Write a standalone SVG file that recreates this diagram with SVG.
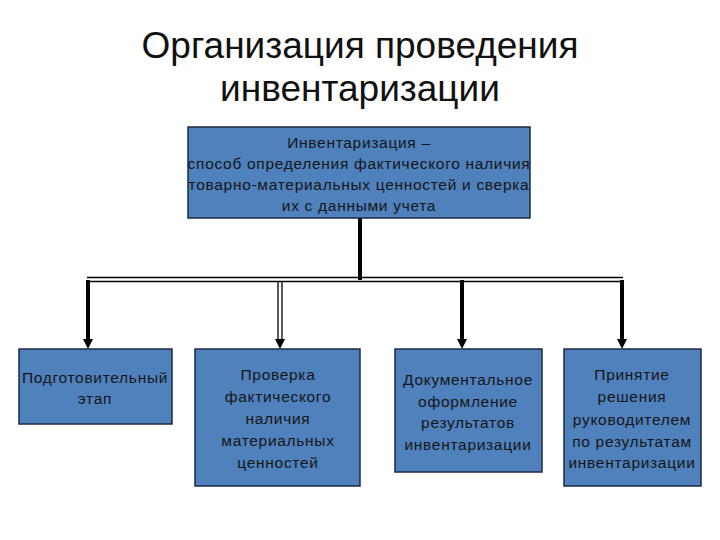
<svg xmlns="http://www.w3.org/2000/svg" width="720" height="540" viewBox="0 0 720 540">
<defs>
<style>
.title{font-family:"Liberation Sans","DejaVu Sans",sans-serif;font-size:37px;fill:#111;text-anchor:middle}
.box{fill:#4f81bd;stroke:#1c2a44;stroke-width:1.5}
.t{font-family:"Liberation Sans","DejaVu Sans",sans-serif;font-size:15.5px;letter-spacing:0.7px;fill:#161616;text-anchor:middle}
.thick{stroke:#000;stroke-width:4;fill:none}
.thin{stroke:#000;stroke-width:1.3;fill:none}
</style>
</defs>
<rect width="720" height="540" fill="#fff"/>
<g id="title">
<text class="title" x="360" y="58">Организация проведения</text>
<text class="title" x="360" y="101">инвентаризации</text>
</g>
<g id="connectors">
<line class="thick" x1="360" y1="218" x2="360" y2="280"/>
<line class="thin" x1="87" y1="277.5" x2="623" y2="277.5"/>
<line class="thin" x1="87" y1="281.5" x2="623" y2="281.5"/>
<line class="thick" x1="88" y1="280" x2="88" y2="340"/>
<path d="M83,339 L93,339 L88,349 z" fill="#000"/>
<line class="thin" x1="278" y1="282" x2="278" y2="340"/>
<line class="thin" x1="282" y1="282" x2="282" y2="340"/>
<path d="M275,339 L285,339 L280,349 z" fill="#000"/>
<line class="thick" x1="462" y1="280" x2="462" y2="340"/>
<path d="M457,339 L467,339 L462,349 z" fill="#000"/>
<line class="thick" x1="622" y1="280" x2="622" y2="340"/>
<path d="M617,339 L627,339 L622,349 z" fill="#000"/>
</g>
<g id="top">
<rect class="box" x="188" y="127" width="342" height="91"/>
<text class="t" x="359" y="148">Инвентаризация –</text>
<text class="t" x="359" y="169">способ определения фактического наличия</text>
<text class="t" x="359" y="190">товарно-материальных ценностей и сверка</text>
<text class="t" x="359" y="211">их с данными учета</text>
</g>
<g id="n1">
<rect class="box" x="19" y="349" width="153" height="75"/>
<text class="t" x="95" y="383">Подготовительный</text>
<text class="t" x="95" y="404">этап</text>
</g>
<g id="n2">
<rect class="box" x="195" y="349" width="165" height="137"/>
<text class="t" x="278" y="380">Проверка</text>
<text class="t" x="278" y="402">фактического</text>
<text class="t" x="278" y="424">наличия</text>
<text class="t" x="278" y="446">материальных</text>
<text class="t" x="278" y="468">ценностей</text>
</g>
<g id="n3">
<rect class="box" x="395" y="349" width="147" height="123"/>
<text class="t" x="468" y="385">Документальное</text>
<text class="t" x="468" y="407">оформление</text>
<text class="t" x="468" y="428">результатов</text>
<text class="t" x="468" y="450">инвентаризации</text>
</g>
<g id="n4">
<rect class="box" x="564" y="349" width="137" height="137"/>
<text class="t" x="632" y="380">Принятие</text>
<text class="t" x="632" y="402">решения</text>
<text class="t" x="632" y="425">руководителем</text>
<text class="t" x="632" y="447">по результатам</text>
<text class="t" x="632" y="468">инвентаризации</text>
</g>
</svg>
